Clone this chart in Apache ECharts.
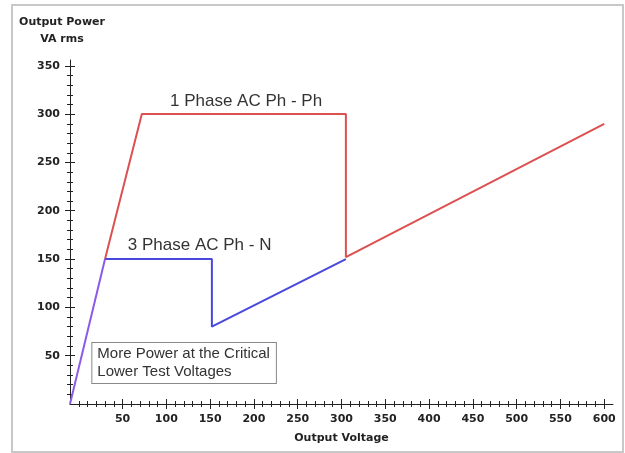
<!DOCTYPE html>
<html>
<head>
<meta charset="utf-8">
<script src="https://cdn.jsdelivr.net/npm/echarts@6/dist/echarts.min.js"></script>
<style>
html,body{margin:0;padding:0;background:#fff;}
#c{width:625px;height:453px;}
</style>
</head>
<body>
<div id="c"></div>
<script>
// ---- data ----
const sharedRamp = [[-10, 0], [30, 150]];
const onePhase = [[30, 150], [72, 300], [305, 300], [305, 152], [600, 290]];
const threePhase = [[30, 150], [152, 150], [152, 80], [305, 150]];

const xMajorTicks = [50, 100, 150, 200, 250, 300, 350, 400, 450, 500, 550, 600];
const yMajorTicks = [50, 100, 150, 200, 250, 300, 350];
const xMinorTicks = [];
for (let v = 0; v <= 600; v += 10) xMinorTicks.push(v);
const yMinorTicks = [];
for (let v = 10; v <= 350; v += 10) yMinorTicks.push(v);

const labelOne = {text: '1 Phase AC Ph - Ph', x: 191, y: 313};
const labelThree = {text: '3 Phase AC Ph - N', x: 138, y: 164};
const noteBox = {text: 'More Power at the Critical\nLower Test Voltages', x: 15.5, y: 42.5};

const X_MIN = -10, X_MAX = 610, Y_MIN = 0, Y_MAX = 356;

// ---- chart ----
const chart = echarts.init(document.getElementById('c'));
const axisColor = '#222';
const tickFont = {fontFamily: 'DejaVu Sans', fontWeight: 'bold', fontSize: 11, color: '#222'};

function xAx(extra) {
  return Object.assign({
    type: 'value', min: X_MIN, max: X_MAX, position: 'bottom',
    axisLine: {show: false, onZero: false}, splitLine: {show: false},
    axisLabel: {show: false}
  }, extra);
}
function yAx(extra) {
  return Object.assign({
    type: 'value', min: Y_MIN, max: Y_MAX, position: 'left',
    axisLine: {show: false, onZero: false}, splitLine: {show: false},
    axisLabel: {show: false}
  }, extra);
}

const textStyleAnn = {fontFamily: 'Liberation Sans', fontSize: 17, color: '#333'};

chart.setOption({
  animation: false,
  backgroundColor: '#fff',
  graphic: [{
    type: 'rect', shape: {x: 12, y: 5, width: 611, height: 447},
    style: {fill: 'none', stroke: '#c8c8c8', lineWidth: 2}, silent: true
  }],
  grid: {left: 70, right: 12, top: 60, bottom: 49, containLabel: false},
  xAxis: [
    xAx({
      axisLine: {show: true, onZero: false, lineStyle: {color: axisColor, width: 1}},
      axisTick: {show: true, customValues: xMinorTicks, length: 3, lineStyle: {color: axisColor}},
      name: 'Output Voltage', nameLocation: 'middle', nameGap: 27,
      nameTextStyle: {fontFamily: 'DejaVu Sans', fontWeight: 'bold', fontSize: 11, color: '#222', lineHeight: 14}
    }),
    xAx({axisTick: {show: true, inside: true, customValues: xMinorTicks, length: 3, lineStyle: {color: axisColor}}}),
    xAx({
      axisTick: {show: true, customValues: xMajorTicks, length: 5, lineStyle: {color: axisColor}},
      axisLabel: Object.assign({show: true, customValues: xMajorTicks, margin: 10}, tickFont)
    }),
    xAx({axisTick: {show: true, inside: true, customValues: xMajorTicks, length: 5, lineStyle: {color: axisColor}}})
  ],
  yAxis: [
    yAx({
      axisLine: {show: true, onZero: false, lineStyle: {color: axisColor, width: 1}},
      axisTick: {show: true, customValues: yMinorTicks, length: 3, lineStyle: {color: axisColor}},
      name: 'Output Power\nVA rms', nameLocation: 'end', nameGap: 12,
      nameTextStyle: {fontFamily: 'DejaVu Sans', fontWeight: 'bold', fontSize: 11, color: '#222',
        lineHeight: 17, align: 'center', padding: [0, 16, 0, 0]}
    }),
    yAx({axisTick: {show: true, inside: true, customValues: yMinorTicks, length: 3, lineStyle: {color: axisColor}}}),
    yAx({
      axisTick: {show: true, customValues: yMajorTicks, length: 5, lineStyle: {color: axisColor}},
      axisLabel: Object.assign({show: true, customValues: yMajorTicks, margin: 10}, tickFont)
    }),
    yAx({axisTick: {show: true, inside: true, customValues: yMajorTicks, length: 5, lineStyle: {color: axisColor}}})
  ],
  series: [
    {
      name: '1 Phase AC Ph - Ph', type: 'line', data: onePhase, symbol: 'none',
      lineStyle: {color: '#dd5050', width: 2}, z: 3,
      markPoint: {
        symbol: 'rect', symbolSize: 1, itemStyle: {color: 'rgba(0,0,0,0)'},
        label: Object.assign({show: true, position: 'inside', formatter: p => p.name}, textStyleAnn),
        data: [{name: labelOne.text, coord: [labelOne.x, labelOne.y]}]
      }
    },
    {
      name: '3 Phase AC Ph - N', type: 'line', data: threePhase, symbol: 'none',
      lineStyle: {color: '#4848dc', width: 2}, z: 3,
      markPoint: {
        symbol: 'rect', symbolSize: 1, itemStyle: {color: 'rgba(0,0,0,0)'},
        label: Object.assign({show: true, position: 'inside', formatter: p => p.name}, textStyleAnn),
        data: [{name: labelThree.text, coord: [labelThree.x, labelThree.y]}]
      }
    },
    {
      name: 'shared', type: 'line', data: sharedRamp, symbol: 'none',
      lineStyle: {color: '#8c5ae8', width: 2}, z: 3,
      markPoint: {
        symbol: 'rect', symbolSize: 1, itemStyle: {color: 'rgba(0,0,0,0)'},
        label: {
          show: true, position: 'inside', formatter: p => p.name,
          fontFamily: 'Liberation Sans', fontSize: 15, color: '#333', lineHeight: 18,
          align: 'left', verticalAlign: 'middle',
          backgroundColor: '#fff', borderColor: '#888', borderWidth: 1, padding: [2, 6, 2, 5]
        },
        data: [{name: noteBox.text, coord: [noteBox.x, noteBox.y]}]
      }
    }
  ]
});
</script>
</body>
</html>
